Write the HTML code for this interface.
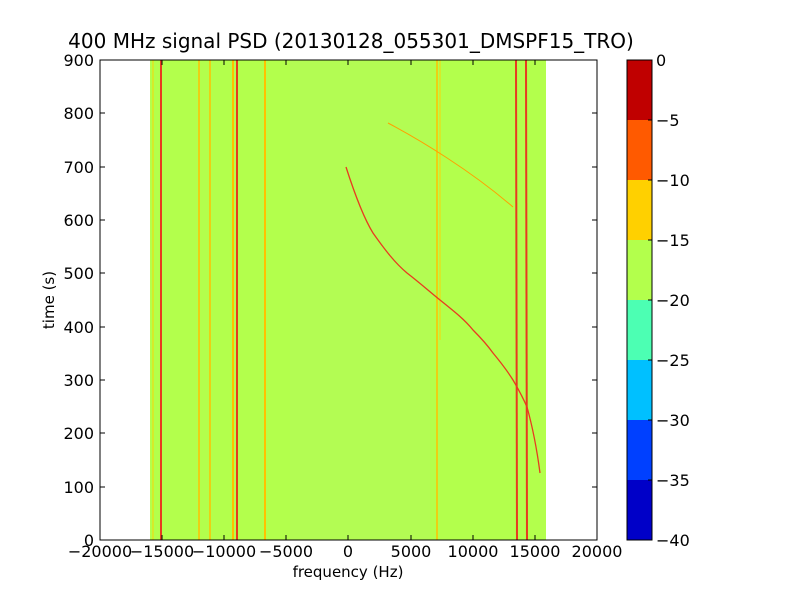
<!DOCTYPE html><html><head><style>body{margin:0;background:#fff;}svg{font-family:"DejaVu Sans","Liberation Sans",sans-serif;}</style></head><body>
<svg width="800" height="600" viewBox="0 0 800 600">
<rect x="150" y="60" width="396" height="480" fill="#b3ff4c"/>
<g fill="#b5f860" opacity="0.4">
<rect x="290" y="60" width="140" height="480"/>
</g>
<g stroke-width="1.5" fill="none">
<line x1="153" y1="60" x2="153" y2="540" stroke="#ffd000" opacity="0.6"/>
<line x1="161" y1="60" x2="161" y2="540" stroke="#e83a20" stroke-width="2"/>
<line x1="199" y1="60" x2="199" y2="540" stroke="#ffc000"/>
<line x1="210" y1="60" x2="210" y2="540" stroke="#ffc000"/>
<line x1="233" y1="60" x2="233" y2="540" stroke="#ffc000" stroke-width="2"/>
<line x1="237" y1="60" x2="237" y2="540" stroke="#e83a20" stroke-width="2"/>
<line x1="265" y1="60" x2="265" y2="540" stroke="#ffc000" stroke-width="2"/>
<line x1="437" y1="60" x2="437" y2="540" stroke="#ffc000"/>
<line x1="440" y1="60" x2="440" y2="340" stroke="#ffd000" opacity="0.6"/>
<line x1="516" y1="60" x2="517" y2="540" stroke="#e83a20" stroke-width="2"/>
<line x1="526" y1="60" x2="527" y2="540" stroke="#e83a20" stroke-width="2"/>
<path d="M346,167 C355,195 365,220 373,233 C385,250 395,263 407,273 C420,283 430,292 440,300 C455,312 465,320 473,330 C483,340 488,346 493,353 C503,365 508,372 513,380 C520,392 524,400 527,407 C532,425 537,450 540,473" stroke="#e83a20" stroke-width="1.3"/>
<path d="M388,123 C420,140 470,170 513,207" stroke="#ffa000" stroke-width="1"/>
</g>
<rect x="100" y="60" width="497" height="480" fill="none" stroke="#000"/>
<g stroke="#000">
<line x1="100" y1="540" x2="100" y2="535"/><line x1="162" y1="540" x2="162" y2="535"/><line x1="224" y1="540" x2="224" y2="535"/><line x1="286" y1="540" x2="286" y2="535"/><line x1="348" y1="540" x2="348" y2="535"/><line x1="411" y1="540" x2="411" y2="535"/><line x1="473" y1="540" x2="473" y2="535"/><line x1="535" y1="540" x2="535" y2="535"/><line x1="597" y1="540" x2="597" y2="535"/>
<line x1="100" y1="60" x2="100" y2="65"/><line x1="162" y1="60" x2="162" y2="65"/><line x1="224" y1="60" x2="224" y2="65"/><line x1="286" y1="60" x2="286" y2="65"/><line x1="348" y1="60" x2="348" y2="65"/><line x1="411" y1="60" x2="411" y2="65"/><line x1="473" y1="60" x2="473" y2="65"/><line x1="535" y1="60" x2="535" y2="65"/>
<line x1="100" y1="487" x2="105" y2="487"/><line x1="100" y1="433" x2="105" y2="433"/><line x1="100" y1="380" x2="105" y2="380"/><line x1="100" y1="327" x2="105" y2="327"/><line x1="100" y1="273" x2="105" y2="273"/><line x1="100" y1="220" x2="105" y2="220"/><line x1="100" y1="167" x2="105" y2="167"/><line x1="100" y1="113" x2="105" y2="113"/>
<line x1="597" y1="487" x2="592" y2="487"/><line x1="597" y1="433" x2="592" y2="433"/><line x1="597" y1="380" x2="592" y2="380"/><line x1="597" y1="327" x2="592" y2="327"/><line x1="597" y1="273" x2="592" y2="273"/><line x1="597" y1="220" x2="592" y2="220"/><line x1="597" y1="167" x2="592" y2="167"/><line x1="597" y1="113" x2="592" y2="113"/>
</g>
<g font-size="16" text-anchor="middle">
<text x="100" y="557">−20000</text><text x="162" y="557">−15000</text><text x="224" y="557">−10000</text><text x="286" y="557">−5000</text><text x="348" y="557">0</text><text x="411" y="557">5000</text><text x="473" y="557">10000</text><text x="535" y="557">15000</text><text x="597" y="557">20000</text>
<text x="348" y="577" font-size="15">frequency (Hz)</text>
<text x="351" y="48" font-size="20">400 MHz signal PSD (20130128_055301_DMSPF15_TRO)</text>
</g>
<g font-size="16" text-anchor="end">
<text x="94" y="546">0</text><text x="94" y="493">100</text><text x="94" y="439">200</text><text x="94" y="386">300</text><text x="94" y="333">400</text><text x="94" y="279">500</text><text x="94" y="226">600</text><text x="94" y="173">700</text><text x="94" y="119">800</text><text x="94" y="66">900</text>
</g>
<text transform="translate(54,300) rotate(-90)" font-size="15" text-anchor="middle">time (s)</text>
<rect x="627" y="60" width="25" height="60" fill="#c00000"/>
<rect x="627" y="120" width="25" height="60" fill="#ff5a00"/>
<rect x="627" y="180" width="25" height="60" fill="#ffd000"/>
<rect x="627" y="240" width="25" height="60" fill="#b3ff4c"/>
<rect x="627" y="300" width="25" height="60" fill="#4cffb3"/>
<rect x="627" y="360" width="25" height="60" fill="#00c0ff"/>
<rect x="627" y="420" width="25" height="60" fill="#0040ff"/>
<rect x="627" y="480" width="25" height="60" fill="#0000c8"/>
<rect x="627" y="60" width="25" height="480" fill="none" stroke="#000"/>
<g stroke="#000"><line x1="648" y1="120" x2="652" y2="120"/><line x1="648" y1="180" x2="652" y2="180"/><line x1="648" y1="240" x2="652" y2="240"/><line x1="648" y1="300" x2="652" y2="300"/><line x1="648" y1="360" x2="652" y2="360"/><line x1="648" y1="420" x2="652" y2="420"/><line x1="648" y1="480" x2="652" y2="480"/></g>
<g font-size="16">
<text x="656" y="66">0</text><text x="656" y="126">−5</text><text x="656" y="186">−10</text><text x="656" y="246">−15</text><text x="656" y="306">−20</text><text x="656" y="366">−25</text><text x="656" y="426">−30</text><text x="656" y="486">−35</text><text x="656" y="546">−40</text>
</g>
</svg></body></html>
